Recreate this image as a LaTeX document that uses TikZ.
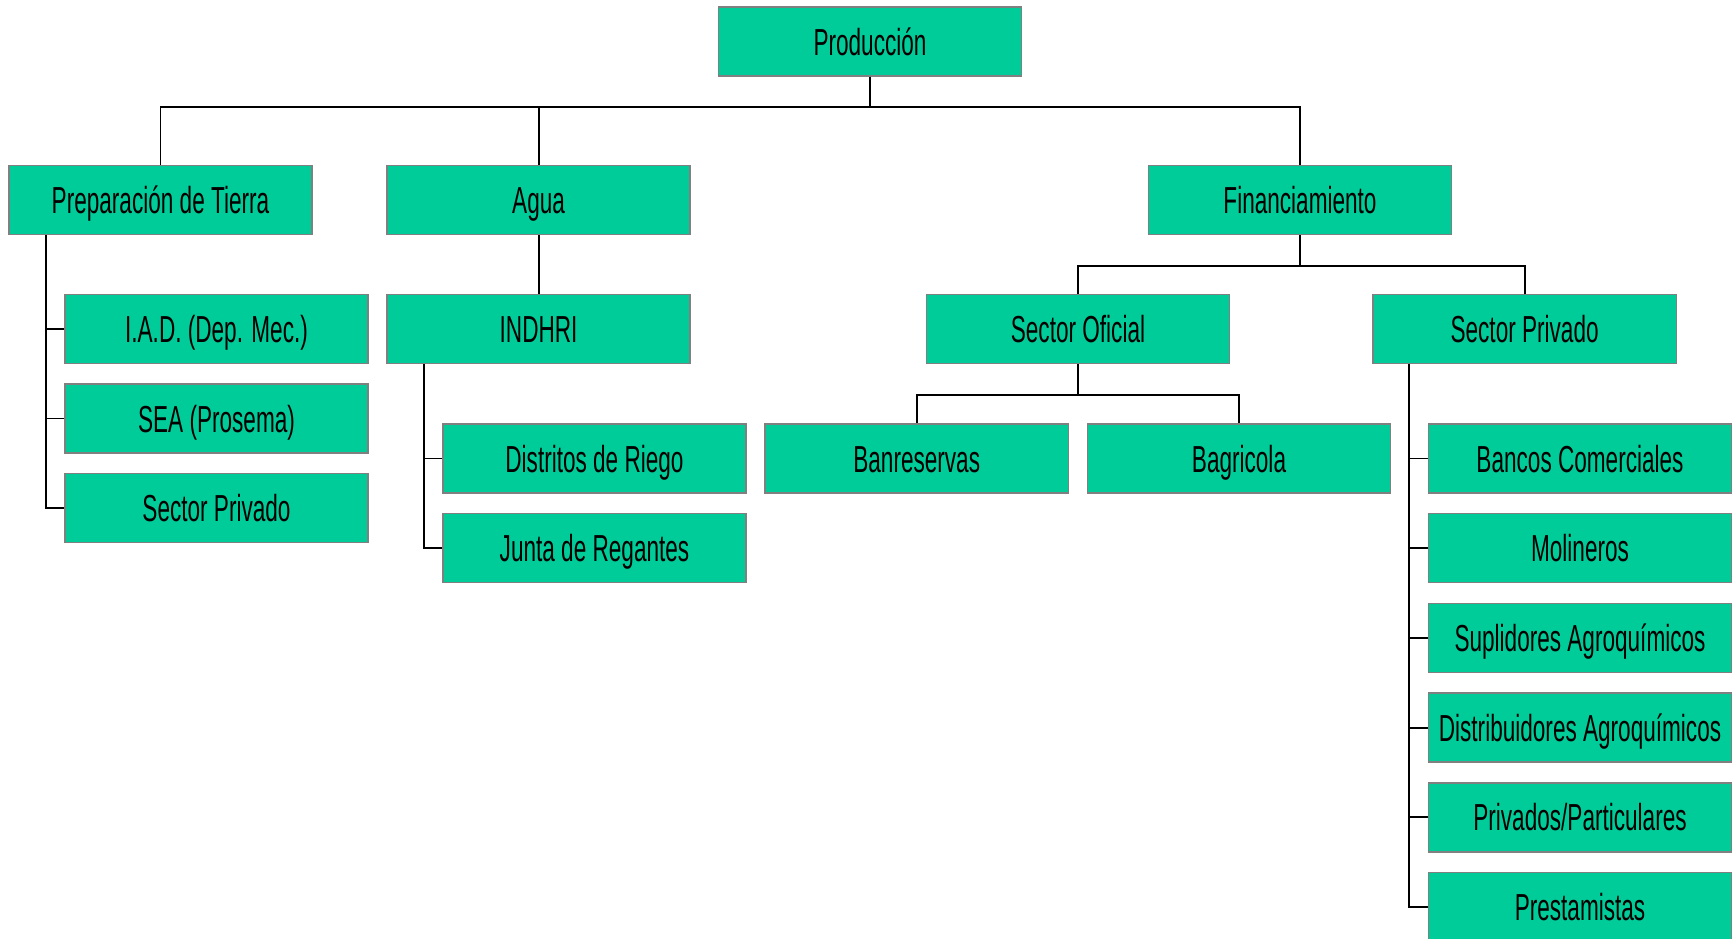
\documentclass[tikz,border=0pt]{standalone}
\usepackage{fontspec}
\setmainfont[FakeStretch=0.6]{Liberation Sans}
\usetikzlibrary{positioning,calc}
\definecolor{orggreen}{RGB}{0,204,153}
\definecolor{orgborder}{RGB}{128,128,128}
\tikzset{
  orgbox/.style={draw=orgborder,line width=0.4pt,fill=orggreen,minimum width=3.03cm,
    minimum height=0.69cm,inner sep=0pt,text height=7.7pt,text depth=0pt,
    font=\fontsize{10.7}{12}\selectfont},
  orgline/.style={line width=0.55pt,black}
}
\begin{document}
\begin{tikzpicture}[x=0.01cm,y=-0.01cm]
  \useasboundingbox (0,0) rectangle (1736,938);

  % Top level
  \node[orgbox] (prod) at (870,41.5) {Producción};

  % First level
  \node[orgbox] (prep) at (160.5,200) {Preparación de Tierra};
  \node[orgbox] (agua) at (538.6,200) {Agua};
  \node[orgbox] (fin) at (1300,200) {Financiamiento};
  \foreach \n in {prep,agua,fin}
    \draw[orgline] (prod.south) -- ++(0,30) -| (\n.north);

  % Preparacion de Tierra
  \foreach \n/\y/\txt in {iad/329/{I.A.D. (Dep. Mec.)},sea/418.5/{SEA (Prosema)},spl/508/{Sector Privado}} {
    \node[orgbox] (\n) at (216.5,\y) {\txt};
    \draw[orgline] ([xshift=0.38cm]prep.south west) |- (\n.west);
  }

  % Agua
  \node[orgbox] (indhri) at (538.6,329) {INDHRI};
  \draw[orgline] (agua.south) -- (indhri.north);
  \foreach \n/\y/\txt in {dist/458.5/{Distritos de Riego},junta/548.2/{Junta de Regantes}} {
    \node[orgbox] (\n) at (594.5,\y) {\txt};
    \draw[orgline] ([xshift=0.375cm]indhri.south west) |- (\n.west);
  }

  % Financiamiento
  \node[orgbox] (sof) at (1078,329) {Sector Oficial};
  \node[orgbox] (spr) at (1524.6,329) {Sector Privado};
  \foreach \n in {sof,spr}
    \draw[orgline] (fin.south) -- ++(0,30.5) -| (\n.north);

  % Sector Oficial
  \node[orgbox] (banres) at (916.7,458.5) {Banreservas};
  \node[orgbox] (bagri) at (1239,458.5) {Bagricola};
  \foreach \n in {banres,bagri}
    \draw[orgline] (sof.south) -- ++(0,30.5) -| (\n.north);

  % Sector Privado
  \foreach \n/\y/\txt in {bancos/458.5/{Bancos Comerciales},moli/548.2/{Molineros},
      supl/637.9/{Suplidores Agroquímicos},distr/727.6/{Distribuidores Agroquímicos},
      priv/817.3/{Privados/Particulares},prest/907/{Prestamistas}} {
    \node[orgbox] (\n) at (1580,\y) {\txt};
    \draw[orgline] ([xshift=0.37cm]spr.south west) |- (\n.west);
  }
\end{tikzpicture}
\end{document}
